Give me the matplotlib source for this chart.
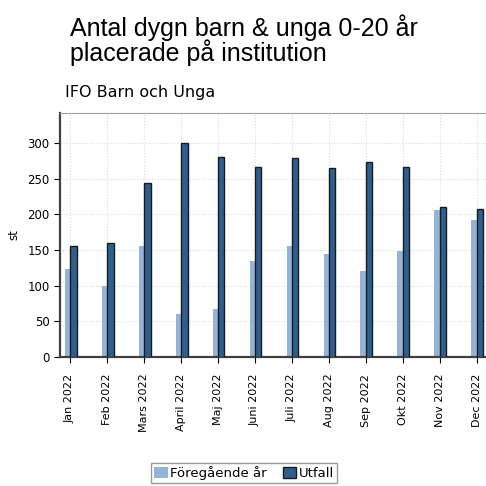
import numpy as np
import matplotlib
matplotlib.use("Agg")
from matplotlib import pyplot as plt

months = ['Jan 2022', 'Feb 2022', 'Mars 2022', 'April 2022', 'Maj 2022', 'Juni 2022',
          'Juli 2022', 'Aug 2022', 'Sep 2022', 'Okt 2022', 'Nov 2022', 'Dec 2022']
foregaende = [123, 100, 155, 60, 67, 135, 155, 144, 120, 149, 206, 192]
utfall = [155, 160, 244, 300, 280, 266, 279, 265, 273, 266, 210, 208]

plt.rcParams['font.family'] = ['DejaVu Sans']

fig = plt.figure(figsize=(4.86, 4.86), dpi=100)
ax = fig.add_axes([60 / 486, 1 - 357 / 486, 435 / 486, 244 / 486])

x = np.arange(len(months))
ax.bar(x - 0.07, foregaende, width=0.14, color='#95b3d7', zorder=2, label='Föregående år')
ax.bar(x + 0.095, utfall, width=0.17, color='#2f5f8f', edgecolor='#1a1a1a',
       linewidth=1.0, zorder=3, label='Utfall')

ax.set_xlim(-0.27, 11.5)
ax.set_ylim(0, 342)
ax.set_yticks(range(0, 301, 50))
ax.set_xticks(x)
ax.set_xticklabels(months, rotation=90, fontsize=8)
ax.tick_params(axis='y', labelsize=8.5, length=4)
ax.tick_params(axis='x', length=4, pad=8)
ax.grid(True, color='#d9d9d9', linestyle=':', linewidth=0.8, zorder=0)
ax.set_axisbelow(True)

for side in ['top', 'right']:
    ax.spines[side].set_color('#a0a0a0')
for side in ['left', 'bottom']:
    ax.spines[side].set_color('#404040')
    ax.spines[side].set_linewidth(1.6)

fig.text(14 / 486, 1 - 235 / 486, 'st', fontsize=8.5, rotation=90, ha='center', va='center')

fig.text(70 / 486, 1 - 14 / 486, 'Antal dygn barn & unga 0-20 år\nplacerade på institution',
         fontsize=18, family='Liberation Sans', va='top', ha='left', linespacing=0.95)
fig.text(65 / 486, 1 - 93 / 486, 'IFO Barn och Unga', fontsize=11.5, va='center', ha='left')

fig.legend(loc='center', bbox_to_anchor=(244 / 486, 1 - 473 / 486), ncol=2, fontsize=9.5,
           frameon=True, fancybox=False, edgecolor='#808080', handlelength=1.0,
           handleheight=1.0, handletextpad=0.2, columnspacing=1.2, borderpad=0.25)

fig.savefig('out.png', dpi=100)
